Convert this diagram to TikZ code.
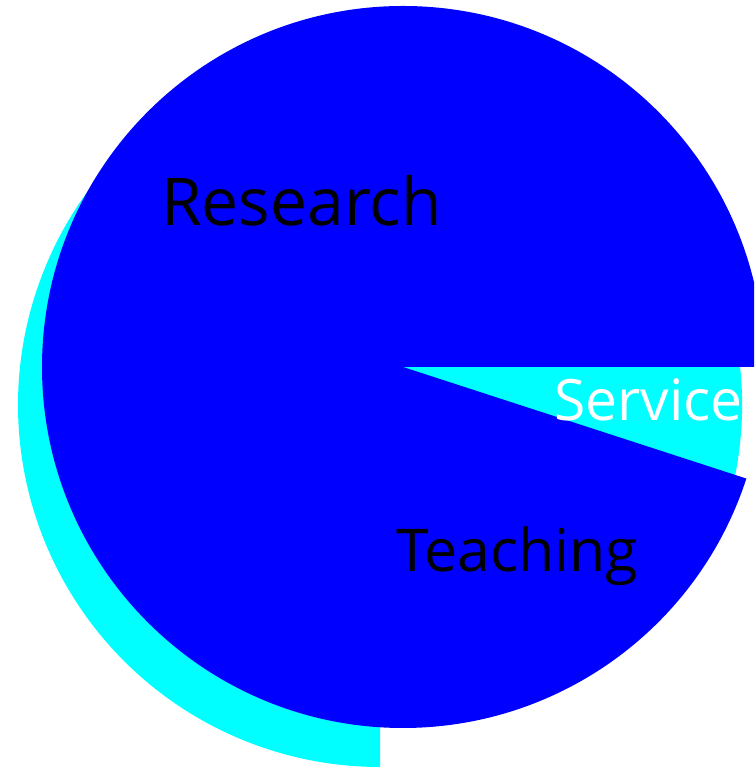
\documentclass[tikz,border=0pt]{standalone}
\usepackage{fontspec}
\setmainfont{Open Sans}
\definecolor{pieblue}{RGB}{0,0,255}
\definecolor{piecyan}{RGB}{0,255,255}
\begin{document}
\begin{tikzpicture}[x=1pt,y=1pt,
  lbl/.style={inner sep=0pt,outer sep=0pt,anchor=base west}]
\useasboundingbox (0,0) rectangle (754,767);
\clip (0,0) rectangle (754,767);
\coordinate (cshadow) at (380,362);
\coordinate (cpie) at (403,400);
\fill[piecyan] (cshadow) -- ++(-20:362) arc[start angle=-20,end angle=270,radius=362] -- cycle;
\fill[pieblue] (cpie) -- ++(0:361) arc[start angle=0,end angle=342,radius=361] -- cycle;
\node[lbl,text=black,font=\fontsize{66}{78}\selectfont] (research) at (161,541) {Research};
\node[lbl,text=black,font=\fontsize{59}{70}\selectfont] (teaching) at (396,195) {Teaching};
\node[lbl,text=white,font=\fontsize{57}{68}\selectfont] (service) at (554,346) {Service};
\end{tikzpicture}
\end{document}
